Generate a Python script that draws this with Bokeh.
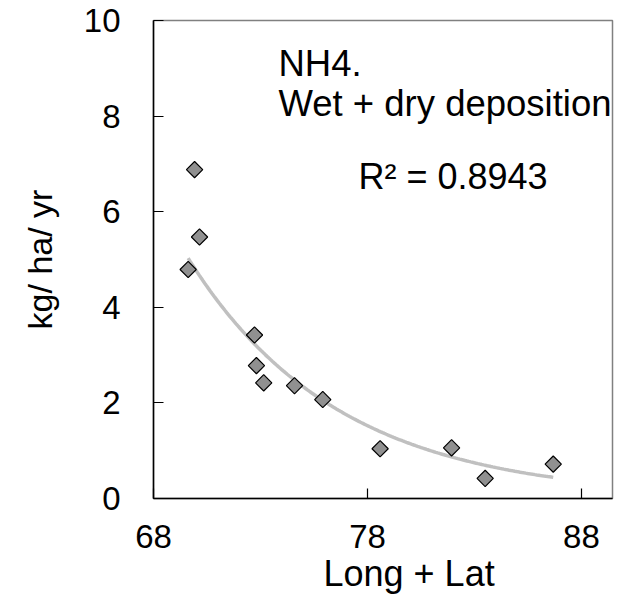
import numpy as np
from bokeh.plotting import figure
from bokeh.models import Range1d, FixedTicker, Label, ColumnDataSource, Title
from bokeh.embed import file_html
from bokeh.resources import INLINE

# Data
long_lat = [69.92, 70.15, 69.62, 72.72, 72.81, 73.15, 74.59, 75.91, 78.59, 81.93, 83.50, 86.68]
deposition = [6.88, 5.47, 4.79, 3.42, 2.78, 2.42, 2.36, 2.07, 1.04, 1.06, 0.42, 0.72]
x_ticks = [68, 78, 88]
y_ticks = [0, 2, 4, 6, 8, 10]
title_lines = ["NH4.", "Wet + dry deposition"]
r2_text = "R\u00b2 = 0.8943"
x_title = "Long + Lat"
y_title = "kg/ ha/ yr"

FONT = "Liberation Sans"

# exponential trendline (least squares on ln y)
xa = np.array(long_lat)
ya = np.array(deposition)
b, lna = np.polyfit(xa, np.log(ya), 1)
tx = np.linspace(xa.min(), xa.max(), 200)
ty = np.exp(lna) * np.exp(b * tx)

p = figure(width=618, height=599, output_backend="svg", toolbar_location=None,
           x_range=Range1d(68, 89.45), y_range=Range1d(0, 10),
           min_border_left=153, min_border_right=6, min_border_top=20, min_border_bottom=101)
p.grid.visible = False
p.outline_line_color = "#808080"
p.outline_line_width = 1.5
p.background_fill_color = "white"
p.border_fill_color = "white"

p.line(tx, ty, line_color="#c0c0c0", line_width=3.5)
src = ColumnDataSource(dict(x=long_lat, y=deposition))
p.scatter("x", "y", source=src, marker="square", angle=np.pi / 4, size=11.5,
          fill_color="#909090", line_color="black", line_width=1.2)

for ax in (p.xaxis[0], p.yaxis[0]):
    ax.axis_line_color = "black"
    ax.axis_line_width = 1.5
    ax.major_tick_line_color = "black"
    ax.major_tick_line_width = 1.2
    ax.major_tick_in = 10
    ax.major_tick_out = 0
    ax.minor_tick_line_color = None
    ax.major_label_text_font = FONT
    ax.major_label_text_font_size = "33px"
    ax.major_label_text_color = "black"
    ax.axis_label_text_font = FONT
    ax.axis_label_text_font_style = "normal"
    ax.axis_label_text_font_size = "34px"
    ax.axis_label_text_color = "black"

p.xaxis.ticker = FixedTicker(ticks=x_ticks)
p.yaxis.ticker = FixedTicker(ticks=y_ticks)
p.xaxis.major_label_standoff = 26
p.yaxis.major_label_standoff = 33
p.yaxis.axis_label = y_title
p.yaxis.axis_label_standoff = 22

# x axis title, placed below (offset right of centre as in the reference)
p.add_layout(Title(text=x_title, align="left", offset=170, standoff=0,
                   text_font=FONT, text_font_size="36px", text_font_style="normal",
                   text_color="black"), "below")

p.add_layout(Label(x=73.84, y=9.10, text=title_lines[0], text_align="left", text_baseline="alphabetic",
                   text_font=FONT, text_font_size="36.5px", text_color="black"))
p.add_layout(Label(x=73.84, y=8.27, text=title_lines[1], text_align="left", text_baseline="alphabetic",
                   text_font=FONT, text_font_size="36.5px", text_color="black"))
p.add_layout(Label(x=77.58, y=6.73, text=r2_text, text_align="left", text_baseline="alphabetic",
                   text_font=FONT, text_font_size="36px", text_color="black"))

open("out.html", "w").write(file_html(p, INLINE))
